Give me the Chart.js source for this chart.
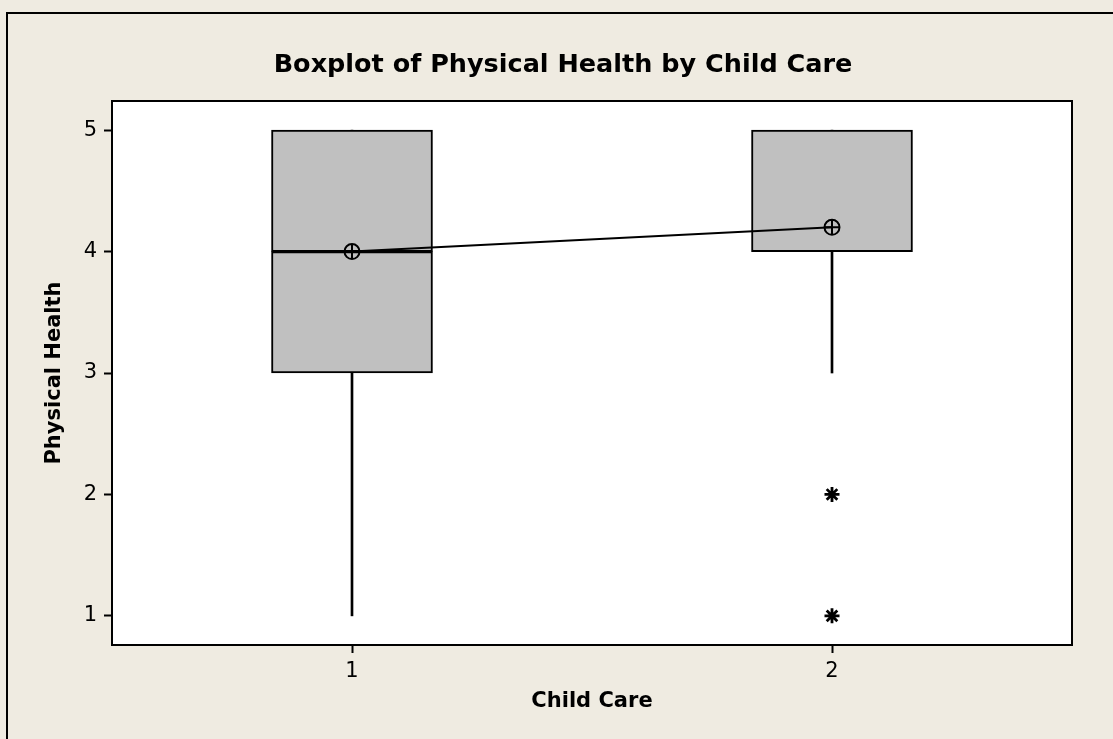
<!DOCTYPE html>
<html>
<head>
<meta charset="utf-8">
<script src="https://cdn.jsdelivr.net/npm/chart.js@4.4.1/dist/chart.umd.min.js"></script>
<style>
  html, body { margin: 0; padding: 0; background: #efebe1; }
  canvas { display: block; }
</style>
</head>
<body>
<canvas id="boxChart" width="1113" height="739"></canvas>
<script>
// box summaries for each child care group
const categories = ['1', '2']
const minVals = [1, 3]
const q1Vals = [3, 4]
const medians = [4, 4]
const q3Vals = [5, 5]
const maxVals = [5, 5]
const means = [4, 4.2]
const outlierCats = ['2', '2']
const outlierVals = [2, 1]
const yTicks = [1, 2, 3, 4, 5]

const chartTitle = 'Boxplot of Physical Health by Child Care'
const FONT = 'Tahoma, "DejaVu Sans", sans-serif'

const boxChart = document.getElementById('boxChart')

// beige page, framed panel, white plot region and the heading
const panelBg = {
  id: 'panelBg',
  beforeDraw(chart) {
    const ctx = chart.ctx
    const a = chart.chartArea
    ctx.save()
    ctx.fillStyle = '#efebe1'
    ctx.fillRect(0, 0, chart.width, chart.height)
    ctx.strokeStyle = '#000'
    ctx.lineWidth = 2
    ctx.beginPath()
    ctx.moveTo(7, chart.height + 5)
    ctx.lineTo(7, 13)
    ctx.lineTo(chart.width + 5, 13)
    ctx.stroke()
    ctx.fillStyle = '#fff'
    ctx.fillRect(a.left, a.top, a.right - a.left, a.bottom - a.top)

    ctx.fillStyle = '#000'
    ctx.font = 'bold 25.5px ' + FONT
    ctx.textAlign = 'center'
    ctx.textBaseline = 'middle'
    ctx.fillText(chartTitle, 563, 65)
    ctx.restore()
  },
  afterDraw(chart) {
    const ctx = chart.ctx
    const a = chart.chartArea
    ctx.save()
    ctx.strokeStyle = '#000'
    ctx.lineWidth = 2
    ctx.strokeRect(a.left, a.top, a.right - a.left, a.bottom - a.top)
    ctx.restore()
  }
}

const lowerHalf = q1Vals.map((q, i) => [q, medians[i]])
const upperHalf = medians.map((m, i) => [m, q3Vals[i]])
const lowWhisker = minVals.map((m, i) => [m, q1Vals[i]])
const highWhisker = q3Vals.map((q, i) => [q, maxVals[i]])
const outlierPts = outlierVals.map((v, i) => ({ x: outlierCats[i], y: v }))

new Chart(boxChart, {
  type: 'bar',
  data: {
    labels: categories,
    datasets: [
      {
        type: 'line',
        label: 'Mean',
        data: means,
        borderColor: '#000',
        borderWidth: 2,
        pointStyle: 'circle',
        pointRadius: 7.5,
        pointBorderWidth: 2,
        pointBackgroundColor: 'rgba(0,0,0,0)',
        pointBorderColor: '#000',
        order: 1
      },
      {
        type: 'line',
        label: 'Mean cross',
        data: means,
        showLine: false,
        pointStyle: 'cross',
        pointRadius: 7.5,
        pointBorderWidth: 2,
        pointBorderColor: '#000',
        order: 0
      },
      {
        type: 'line',
        label: 'Outliers',
        data: outlierPts,
        showLine: false,
        pointStyle: 'star',
        pointRadius: 7.5,
        pointBorderWidth: 2.8,
        pointBorderColor: '#000',
        order: 0
      },
      {
        label: 'Q1-Median',
        data: lowerHalf,
        grouped: false,
        barThickness: 161,
        backgroundColor: '#c0c0c0',
        borderColor: '#000',
        borderWidth: 2,
        borderSkipped: false,
        order: 2
      },
      {
        label: 'Median-Q3',
        data: upperHalf,
        grouped: false,
        barThickness: 161,
        backgroundColor: '#c0c0c0',
        borderColor: '#000',
        borderWidth: 2,
        borderSkipped: false,
        order: 2
      },
      {
        label: 'Lower whisker',
        data: lowWhisker,
        grouped: false,
        barThickness: 2,
        backgroundColor: '#000',
        borderWidth: 0,
        order: 3
      },
      {
        label: 'Upper whisker',
        data: highWhisker,
        grouped: false,
        barThickness: 2,
        backgroundColor: '#000',
        borderWidth: 0,
        order: 3
      }
    ]
  },
  options: {
    responsive: false,
    animation: false,
    devicePixelRatio: 1,
    layout: { padding: { left: 0, right: 41, top: 101, bottom: 0 } },
    plugins: {
      legend: { display: false },
      tooltip: { enabled: false },
      title: { display: false }
    },
    scales: {
      x: {
        type: 'category',
        offset: true,
        afterFit(scale) { scale.height = 94 },
        grid: {
          offset: false,
          drawOnChartArea: false,
          drawTicks: true,
          tickLength: 8,
          tickWidth: 2,
          tickColor: '#000'
        },
        border: { display: false },
        ticks: { color: '#000', padding: 6, font: { family: FONT, size: 21 } },
        title: {
          display: true,
          text: 'Child Care',
          color: '#000',
          font: { family: FONT, size: 21, weight: 'bold', lineHeight: 1.2 },
          padding: { top: 0, bottom: 24.4 }
        }
      },
      y: {
        min: 0.76,
        max: 5.24,
        afterFit(scale) { scale.width = 112 },
        afterBuildTicks(scale) { scale.ticks = yTicks.map(v => ({ value: v })) },
        grid: {
          drawOnChartArea: false,
          drawTicks: true,
          tickLength: 8,
          tickWidth: 2,
          tickColor: '#000'
        },
        border: { display: false },
        ticks: { color: '#000', padding: 7, font: { family: FONT, size: 21 } },
        title: {
          display: true,
          text: 'Physical Health',
          color: '#000',
          font: { family: FONT, size: 21, weight: 'bold', lineHeight: 1.2 },
          padding: { top: 42.4, bottom: 0 }
        }
      }
    }
  },
  plugins: [panelBg]
})
</script>
</body>
</html>
